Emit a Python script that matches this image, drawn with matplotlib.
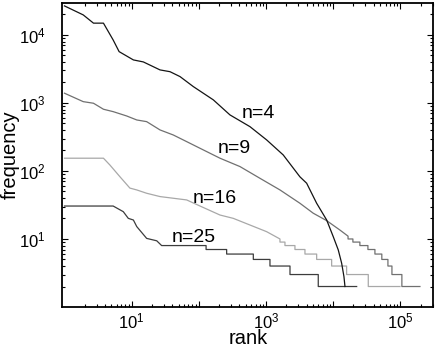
import numpy as np
import matplotlib
matplotlib.use("Agg")
import matplotlib.pyplot as plt
from matplotlib.ticker import FixedLocator, LogLocator, FuncFormatter, NullFormatter

plt.rcParams["font.family"] = ["Liberation Sans", "DejaVu Sans"]
plt.rcParams["mathtext.fontset"] = "custom"
plt.rcParams["mathtext.rm"] = "Liberation Sans"
plt.rcParams["mathtext.it"] = "Liberation Sans:italic"

# rank / frequency
# smooth upper part of each curve ("head") and the integer-frequency staircase ("tail")
rank4 = [1, 1.9, 2.7, 3.8, 5.3, 6.5, 10.6, 14.9, 26.4, 37.2, 52.4, 82.6, 164, 290,
         576, 1020, 1800, 3190, 4020, 5660, 7980, 10000, 11870, 13330, 14420, 14940]
freq4 = [26700, 19700, 14900, 14900, 8430, 5680, 4290, 4010, 3060, 2880, 2440, 1740,
         1110, 667, 448, 286, 172, 82, 66, 33.5, 19, 10.8, 6.9, 4.4, 2.8, 2.0]

rank9 = [1, 1.9, 2.7, 3.8, 5.3, 8.4, 11.9, 16.7, 26.4, 41.6, 65.8, 92.7, 206, 409,
         811, 1610, 3190, 5040, 7980, 12600, 16600]
freq9 = [1390, 1045, 990, 808, 745, 644, 562, 531, 401, 338, 270, 228, 154, 116,
         78, 52.6, 33.5, 23.9, 18.6, 13.5, 11]
tail_freq9 = [10, 9, 8, 7, 6, 5, 4, 3, 2]
tail_end9 = [19600, 24900, 32800, 41700, 52800, 65100, 74700, 105000, 195000]

rank16 = [1, 3.8, 4.75, 6.7, 9.4, 11.9, 16.7, 26.4, 41.6, 65.8, 104, 206, 325, 1020, 1610]
freq16 = [154, 154, 122, 82, 56, 52.6, 47, 42, 39.7, 37.5, 30.5, 22.5, 20.1, 12.8, 10]
tail_freq16 = [9, 8, 7, 6, 5, 4, 3, 2]
tail_end16 = [1910, 2690, 3790, 5660, 9460, 15800, 33200, 98400]

rank25 = [1, 5.3, 7.5, 8.9, 10.6, 11.9, 16.7, 23.6, 27.9]
freq25 = [30.5, 30.5, 25.2, 20.1, 19, 15.2, 10.2, 9.4, 8]
tail_freq25 = [8, 7, 6, 5, 4, 3, 2]
tail_end25 = [128, 259, 646, 1143, 2270, 5980, 22300]

labels = ["n=4", "n=9", "n=16", "n=25"]


def staircase(head_rank, head_freq, tail_freq, tail_end):
    # join the smooth head with the flat steps of equal frequency
    rank = list(head_rank)
    freq = list(head_freq)
    start = head_rank[-1]
    for f, end in zip(tail_freq, tail_end):
        rank += [start, end]
        freq += [f, f]
        start = end
    return rank, freq


fig = plt.figure(figsize=(4.36, 3.5), dpi=100)
ax = fig.add_axes([0.1422, 0.1229, 0.8509, 0.8686])

x16, y16 = staircase(rank16, freq16, tail_freq16, tail_end16)
x9, y9 = staircase(rank9, freq9, tail_freq9, tail_end9)
x25, y25 = staircase(rank25, freq25, tail_freq25, tail_end25)

ax.plot(x16, y16, color="#a8a8a8", lw=0.9)
ax.plot(x9, y9, color="#707070", lw=0.9)
ax.plot(x25, y25, color="#3c3c3c", lw=0.9)
ax.plot(rank4, freq4, color="#141414", lw=0.9)

ax.set_xscale("log")
ax.set_yscale("log")
ax.set_xlim(0.918, 3.05e5)
ax.set_ylim(1.0, 2.95e4)

# curve labels
ax.text(434, 596, labels[0], fontsize=14, ha="left", va="baseline")
ax.text(188, 182, labels[1], fontsize=14, ha="left", va="baseline")
ax.text(81.7, 33.5, labels[2], fontsize=14, ha="left", va="baseline")
ax.text(39.4, 9.13, labels[3], fontsize=14, ha="left", va="baseline")

ax.xaxis.set_major_locator(FixedLocator([1e1, 1e2, 1e3, 1e4, 1e5]))
ax.xaxis.set_minor_locator(LogLocator(base=10, subs=range(2, 10), numticks=20))
ax.yaxis.set_major_locator(FixedLocator([1e1, 1e2, 1e3, 1e4]))
ax.yaxis.set_minor_locator(LogLocator(base=10, subs=range(2, 10), numticks=20))


def odd_decades(v, pos):
    e = int(round(np.log10(v)))
    return f"$10^{{{e}}}$" if e % 2 == 1 else ""


def all_decades(v, pos):
    return f"$10^{{{int(round(np.log10(v)))}}}$"


ax.xaxis.set_major_formatter(FuncFormatter(odd_decades))
ax.yaxis.set_major_formatter(FuncFormatter(all_decades))
ax.xaxis.set_minor_formatter(NullFormatter())
ax.yaxis.set_minor_formatter(NullFormatter())

ax.tick_params(which="both", direction="in", top=True, right=True, width=0.8)
ax.tick_params(which="major", length=4)
ax.tick_params(which="minor", length=2)
ax.tick_params(axis="x", which="major", labelsize=12, pad=3)
ax.tick_params(axis="y", which="major", labelsize=12, pad=12)

for s in ax.spines.values():
    s.set_linewidth(1.3)

ax.set_xlabel("rank", fontsize=14.5)
ax.set_ylabel("frequency", fontsize=14.5)
ax.xaxis.set_label_coords(0.502, -0.072)
ax.yaxis.set_label_coords(-0.113, 0.5)

fig.savefig("out.png", dpi=100)
